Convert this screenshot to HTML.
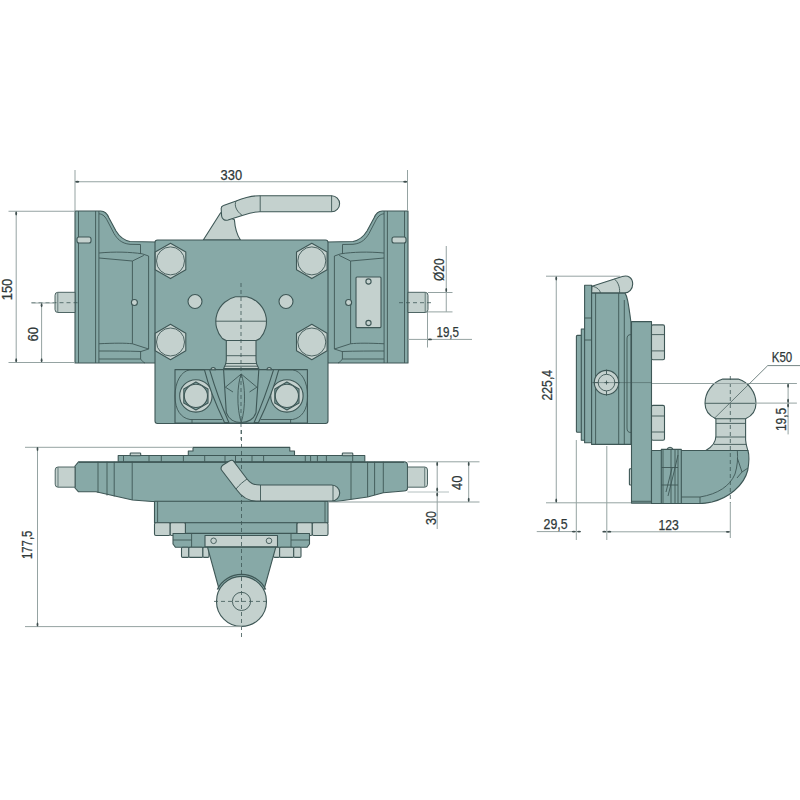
<!DOCTYPE html>
<html><head><meta charset="utf-8"><style>
html,body{margin:0;padding:0;background:#fff;width:800px;height:800px;overflow:hidden}
svg{display:block}
.t{fill:#87a9a7;stroke:#3e5756;stroke-width:1.1;stroke-linejoin:round}
.l{fill:#c4d1ce;stroke:#3e5756;stroke-width:1.1;stroke-linejoin:round}
.ln{fill:none;stroke:#3e5756;stroke-width:0.9}
.d{fill:none;stroke:#95a3a2;stroke-width:1}
.c{fill:none;stroke:#3e5756;stroke-width:0.8;stroke-dasharray:4 3}
text{font-family:"Liberation Sans",sans-serif;font-size:14px;fill:#2e3838;stroke:#2e3838;stroke-width:0.25}
</style></head><body>
<svg width="800" height="800" viewBox="0 0 800 800">


<!-- ===== TOP VIEW ===== -->
<!-- handle -->
<path class="l" d="M203.3,240 L220.6,212.7 L234.4,219.7 C235,228 237,235 240.5,240 Z"/>
<path class="l" d="M259.7,195.7 H331.6 A8,8 0 0 1 331.6,211.7 H259.7 C255,211.7 251,212.5 242.2,215.4 L228,220 C224.5,221 222,219 221.6,216 L221.2,209 C221,207.5 222,206 223.5,205.5 L236.1,200.9 C244,197.8 252,195.7 259.7,195.7 Z"/>
<path class="ln" d="M331.6,195.7 V211.7 M260.2,195.7 V211.7 M236.1,200.9 C234,205 236,211 242.2,215.4"/>

<g>
  <path class="t" d="M75,211 H100.7 C104,211 107,213 109,218 L116,231 C119,236 123,240 130,241.5 L156,242 V363 H75 Z"/>
  <path class="ln" d="M78.5,211 V363 M95.6,211 V363 M98.9,211 V363"/>
  <path class="ln" d="M99,213.8 C103,214 105.5,217 107.5,221 L114,233.5 C117,238.5 121,243.5 130,244.3 L140.5,244.5 V253.8"/>
  <rect class="l" x="77" y="237" width="14" height="6" rx="2"/>
  <path class="ln" d="M99,253 C115,251.5 130,252 142.2,253.8 L148.6,256 M99,258 L132.4,261 L143.8,255.4 M148.6,256 V349 M132.4,261 V343.75"/>
  <path class="ln" d="M99,343.75 C115,343 125,343 132.4,343.75 L148.6,349 L141,351.5 C127,351 112,351 99,351 M99,359 H140.6 V351.5 M140.6,359 C142,361 143,362 145,363"/>
  <circle class="l" cx="134.4" cy="302.5" r="3"/>
  <path class="l" d="M75,292.3 H57.8 Q55,292.3 55,295.3 V309.5 Q55,312.5 57.8,312.5 H75 Z" style="stroke-width:0.9"/>
  <path class="ln" d="M57.8,292.8 V312" style="stroke-width:0.7"/>
</g>
<g transform="translate(483,0) scale(-1,1)">
  <path class="t" d="M75,211 H100.7 C104,211 107,213 109,218 L116,231 C119,236 123,240 130,241.5 L156,242 V363 H75 Z"/>
  <path class="ln" d="M78.5,211 V363 M95.6,211 V363 M98.9,211 V363"/>
  <path class="ln" d="M99,213.8 C103,214 105.5,217 107.5,221 L114,233.5 C117,238.5 121,243.5 130,244.3 L140.5,244.5 V253.8"/>
  <rect class="l" x="77" y="237" width="14" height="6" rx="2"/>
  <path class="ln" d="M99,253 C115,251.5 130,252 142.2,253.8 L148.6,256 M99,258 L132.4,261 L143.8,255.4 M148.6,256 V349 M132.4,261 V343.75"/>
  <path class="ln" d="M99,343.75 C115,343 125,343 132.4,343.75 L148.6,349 L141,351.5 C127,351 112,351 99,351 M99,359 H140.6 V351.5 M140.6,359 C142,361 143,362 145,363"/>
  <circle class="l" cx="134.4" cy="302.5" r="3"/>
  <path class="l" d="M75,292.3 H57.8 Q55,292.3 55,295.3 V309.5 Q55,312.5 57.8,312.5 H75 Z" style="stroke-width:0.9"/>
  <path class="ln" d="M57.8,292.8 V312" style="stroke-width:0.7"/>
</g>
<!-- label plate on right -->
<rect class="l" x="356" y="277" width="25" height="50.6" rx="1"/>
<circle class="l" cx="368.5" cy="281.5" r="2.6"/>
<circle class="l" cx="368.5" cy="323" r="2.6"/>

<!-- centre plate -->
<rect class="t" x="155" y="240" width="173" height="183.5" rx="2.5"/>
<g transform="translate(170.5,260.9)">
  <polygon class="l" points="0,-17.7 15.3,-8.85 15.3,8.85 0,17.7 -15.3,8.85 -15.3,-8.85"/>
  <circle class="ln" r="14"/>
</g>
<g transform="translate(311.8,260.9)">
  <polygon class="l" points="0,-17.7 15.3,-8.85 15.3,8.85 0,17.7 -15.3,8.85 -15.3,-8.85"/>
  <circle class="ln" r="14"/>
</g>
<g transform="translate(170.5,342)">
  <polygon class="l" points="0,-17.7 15.3,-8.85 15.3,8.85 0,17.7 -15.3,8.85 -15.3,-8.85"/>
  <circle class="ln" r="14"/>
</g>
<g transform="translate(311.8,342)">
  <polygon class="l" points="0,-17.7 15.3,-8.85 15.3,8.85 0,17.7 -15.3,8.85 -15.3,-8.85"/>
  <circle class="ln" r="14"/>
</g>
<circle class="l" cx="195" cy="301.5" r="7"/>
<circle class="l" cx="286" cy="301.5" r="7"/>
<!-- lower bracket -->
<path class="t" d="M175,369.6 H307.4 V423 H175 Z"/>
<path class="ln" d="M204,369.85 H190 C181,371 175,382 175,396 C175,410 181,418 190,419.5 H222 M192,419.5 V423 M278.6,369.85 H292.6 C301.6,371 307.6,382 307.6,396 C307.6,410 301.6,418 292.6,419.5 H260.6 M290.6,419.5 V423"/>
<circle class="l" cx="195.9" cy="395.9" r="16.2"/>
<circle class="l" cx="286.9" cy="395.9" r="16.2"/>
<polygon class="t" points="195.9,381.9 208,388.9 208,402.9 195.9,409.9 183.8,402.9 183.8,388.9"/>
<circle class="l" cx="195.9" cy="395.9" r="11.6"/>
<polygon class="t" points="286.9,381.9 299,388.9 299,402.9 286.9,409.9 274.8,402.9 274.8,388.9"/>
<circle class="l" cx="286.9" cy="395.9" r="11.6"/>
<path class="t" d="M204.4,369.7 L209.6,369.7 C215,388 221,405 228.9,422.5 L224.5,422.5 C216,405 209,388 204.4,369.7 Z"/>
<path class="t" d="M278.8,369.7 L273.6,369.7 C268,388 262,405 254.1,422.5 L258.5,422.5 C267,405 274,388 278.8,369.7 Z"/>
<path class="t" d="M223.6,369.7 H258.8 L256,412.6 C254,419 248,422.5 241.2,422.5 C234.5,422.5 228.5,419 226.3,412.6 Z"/>
<path class="ln" d="M225.4,387.2 L241.2,374 L256.9,387.2 M225.4,387.2 L233,392 M256.9,387.2 L249.5,392 M241.2,374 C237,385 236.5,408 241.2,422.5 C245.9,408 245.4,385 241.2,374"/>
<path class="l" d="M211,369.7 A2.2,2.2 0 0 1 215.4,369.7 Z M267,369.7 A2.2,2.2 0 0 1 271.4,369.7 Z"/>
<!-- ball -->
<path class="l" d="M226.3,340 V360 C226.3,364 225,366 223.6,368.5 H258.8 C257.3,366 256,364 256,360 V340 Z"/>
<path class="l" d="M235.5,296.8 H246.8 A25.35,25.35 0 0 1 259.95,338.5 C258.5,339.5 257.5,340 256,340.5 H226.3 C224.8,340 223.8,339.5 222.35,338.5 A25.35,25.35 0 0 1 235.5,296.8 Z"/>
<path class="ln" d="M215.9,321.2 H266.4 M226.3,355.7 H256 M225.5,363.5 H257 M224.5,366.2 H258"/>
<path class="c" d="M241,283 V440 M31.5,302.7 H80 M399,302.7 H432"/>

<!-- ===== FRONT VIEW ===== -->
<path class="t" d="M193,447.4 H289.8 V451 H294.5 V455.5 H188.3 V451 H193 Z"/>
<rect class="t" x="118.2" y="455.5" width="246.6" height="6.5"/>
<path class="ln" d="M123.5,455.5 V462 M149,455.5 V462 M161.3,455.5 V462 M183.4,455.5 V462 M204.7,455.5 V462 M225,455.5 V462 M235.5,455.5 V462 M252,455.5 V462 M263.6,455.5 V462 M305.3,455.5 V462 M310.6,455.5 V462 M317.4,455.5 V462 M326.4,455.5 V462 M352.7,455.5 V462"/>
<rect class="l" x="130.2" y="453" width="10.5" height="2.7" rx="0.8"/>
<rect class="l" x="342.3" y="453" width="10.5" height="2.7" rx="0.8"/>
<path class="t" d="M78.5,461.8 H404 Q407.5,461.8 407.5,465.5 V488 Q407.5,491 404,491 L383.3,492.8 L367.6,497 L350,499.5 L336,501.5 H152 L132.5,500 L96,491.8 H78.5 L75,488 V466 Z"/>
<path class="ln" d="M98,461.8 V493 M107,461.8 V495.5 M114.2,461.8 V496.5 M132.2,461.8 V500 M383.3,461.8 V492.8 M374.6,461.8 V495 M367.6,461.8 V497 M351,461.8 V499.5 M79,462.5 H404"/>
<path class="l" d="M75,467 H58 Q55.2,467 55.2,470 V484.2 Q55.2,487.2 58,487.2 H75 Z" style="stroke-width:0.9"/><path class="ln" d="M58,467.5 V486.7" style="stroke-width:0.7"/>
<path class="l" d="M407.5,467 H424.7 Q427.5,467 427.5,470 V484.2 Q427.5,487.2 424.7,487.2 H407.5 Z" style="stroke-width:0.9"/><path class="ln" d="M424.7,467.5 V486.7" style="stroke-width:0.7"/>
<rect class="t" x="154.5" y="501.2" width="173.5" height="21.5"/>
<path class="ln" d="M157.6,501.2 V522.7 M325,501.2 V522.7"/>
<rect class="t" x="185.4" y="522.7" width="111.6" height="10.5"/>
<rect class="l" x="154.5" y="522.7" width="15.7" height="12.8" rx="1.5"/>
<rect class="l" x="170.2" y="522.7" width="15.2" height="12.8" rx="1.5"/>
<rect class="l" x="297" y="522.7" width="15.3" height="12.8" rx="1.5"/>
<rect class="l" x="312.3" y="522.7" width="15.7" height="12.8" rx="1.5"/>
<path class="t" d="M173,533.5 H309.5 V544 L307,547.3 H175.5 L173,544 Z"/>
<path class="ln" d="M191.6,533.5 V547.3 M291,533.5 V547.3 M173,540 H191.6 M291,540 H309.5"/>
<rect class="l" x="181.5" y="547.3" width="7.3" height="10.1" rx="1.2"/>
<rect class="l" x="188.8" y="547.3" width="14.1" height="10.1" rx="1.2"/>
<rect class="l" x="202.9" y="547.3" width="6.1" height="10.1" rx="1.2"/>
<rect class="l" x="273.5" y="547.3" width="6.1" height="10.1" rx="1.2"/>
<rect class="l" x="279.6" y="547.3" width="14.1" height="10.1" rx="1.2"/>
<rect class="l" x="293.7" y="547.3" width="7.3" height="10.1" rx="1.2"/>
<path class="t" d="M207.5,547.1 H275.8 L263.9,590 H219.3 Z"/>
<rect class="l" x="205" y="535.5" width="72.5" height="11.2"/>
<circle class="ln" cx="213.6" cy="540.8" r="2.8"/>
<circle class="ln" cx="269" cy="540.8" r="2.8"/>
<circle class="l" cx="241.5" cy="601.4" r="25"/>
<path class="ln" d="M217.3,589.5 A27,27 0 0 1 265.7,589.5" style="stroke-width:1.3"/>
<circle class="ln" cx="241.5" cy="601.4" r="9.1"/>
<path class="c" d="M241.5,430 V640 M214,601.4 H269.2"/>
<!-- front handle -->
<path class="l" d="M233,460.5 L247,479 C250,483 253,485 260.5,485 H331.7 A8,8 0 0 1 331.7,501 H256 C247,501 241,496 236,489 L221.5,470 C220.5,468 221,466.5 223,465 L229,461.2 C230.5,460.3 232,460 233,460.5 Z"/>
<path class="ln" d="M236,489 C240,484 243,482 247,479 M260.5,485 V501 M333,485 V501"/>

<!-- ===== SIDE VIEW ===== -->
<rect class="t" x="576.4" y="335.4" width="6" height="96.8" rx="1"/>
<rect class="t" x="581.3" y="329" width="5" height="111.3"/>
<rect class="t" x="584.6" y="285.3" width="7" height="157.5"/>
<path class="ln" d="M584.6,340 H591.6 M584.6,318 H591.6"/>
<path class="t" d="M591.6,292.9 H624.9 C627,296 628,300 631,322.5 V444.4 H591.6 Z"/>
<path class="ln" d="M595.6,292.9 V444.4 M618.7,292.9 V444.4 M624.3,300 V444.4"/>
<path class="ln" d="M631,334.6 C628,334.6 627,336 627,339 V428 C627,431 628,432.5 631,432.5"/>
<path class="l" d="M591.6,292.9 L592,286.2 L622.2,276.6 C628,274.5 632.7,278 632.7,284 C632.7,289 629,292.9 624.9,292.9 Z"/>
<path class="ln" d="M592,286.2 C597,287 600,290 600.4,292.9 M614.4,279 C618,282 620,287 619.6,292.9"/>
<rect class="t" x="631.5" y="321.6" width="20" height="181.5"/>
<path class="ln" d="M631.5,501.3 H651.5"/>
<rect class="l" x="629.4" y="468.7" width="2.1" height="16.3" rx="0.8"/>
<rect class="l" x="651.5" y="324.9" width="13" height="34.9" rx="1.5"/>
<rect class="l" x="651.5" y="405.4" width="13" height="34.9" rx="1.5"/>
<path class="ln" d="M651.5,334.6 H664.5 M651.5,350.9 H664.5 M651.5,416 H664.5 M651.5,432 H664.5"/>
<circle class="l" cx="606.5" cy="382.6" r="12.2"/>
<circle class="ln" cx="606.5" cy="382.6" r="8.3"/>
<path class="ln" d="M606.5,369.5 V374.3 M606.5,390.9 V395.7 M593.4,382.6 H598.2 M614.8,382.6 H619.6 M604.5,382.6 H608.5 M606.5,380.6 V384.6"/>
<path class="d" d="M591,382.6 H652" style="stroke:#3e5756;stroke-width:0.5"/>
<!-- ball + neck -->
<path class="l" d="M705.8,450.5 C712,447 715.9,443 715.9,436 V418 H745.6 V440 C746,445 747,447 747.8,450.5 Z"/>
<path class="l" d="M722.75,379.1 H738.25 A25.5,25.5 0 0 1 756,403.3 C756,410 753,415.5 745.6,418.8 H715.9 C708.5,415.5 705,410 705,403.3 A25.5,25.5 0 0 1 722.75,379.1 Z"/>
<path class="ln" d="M705,403.3 H756 M716,423.4 H745.6 M716,437 H745.6 M714,444.4 H746.5"/>
<!-- arm -->
<path class="t" d="M651.5,450.5 H748 C749.5,456 749,463 747.8,470 C744,486 728,498 712,502 C707,503 703,503.5 700,503.5 H651.5 Z"/>
<path class="ln" d="M737.3,450.5 C738,458 737.5,466 735,474 C730,486 718,494 700,497 H677.5 M700,497 V503.5 M737.3,458 L742,472 L748,468 M742,472 L737,478"/>
<rect class="t" x="661.3" y="449.4" width="20" height="54.1"/>
<path class="ln" d="M663,449.4 V503.5 M671,449.4 V503.5 M675,449.4 V503.5 M678,449.4 V503.5 M661.3,467.5 H678 M661.3,485 H678 M668,496 L674,472 L678,455 M666,492 L672,468"/>
<path class="l" d="M667,449.4 C668,446.5 672,446.5 673,449.4 Z"/>
<path class="c" d="M730.3,376 V503"/>

<!-- ===== DIMENSIONS ===== -->
<g class="d">
<path d="M75,170 V211 M407.5,170 V211 M75,181.75 H407.5"/>
<path d="M8.5,211.25 H75 M8.5,362.5 H75 M16.2,211.25 V362.5"/>
<path d="M31.5,303 H55 M41.6,303 V362.5"/>
<path d="M428,292.5 H452.5 M428,311.9 H452.5 M446.25,246 V311.9"/>
<path d="M427.5,312 V347.5 M408,339.4 H472"/>
<path d="M25,447.3 H193 M25,626.6 H241.6 M37.5,447.3 V626.6"/>
<path d="M407.5,461.8 H479.5 M328,502 H479.5 M468.7,461.8 V502 M437.2,461.8 V529"/>
<path d="M546,276.2 H620 M546,502.8 H631 M556.25,276.2 V502.8"/>
<path d="M576.3,440 V540 M606.8,446 V540 M730.3,503 V538 M536.75,531.6 H576.3 M606.8,531.8 H730.3"/>
<path d="M652,383.5 H796.9 M755,403.1 H796.9 M788.1,383.5 V434.4"/>
</g>
<path d="M407.5,492 H449" style="fill:none;stroke:#b4c0c0;stroke-width:1"/>
<path d="M714,418.7 L767.75,365.6 H800" style="fill:none;stroke:#4f6463;stroke-width:0.8"/>
<g style="fill:#3e4e4e"><ellipse cx="77.3" cy="181.75" rx="2" ry="0.9"/><ellipse cx="405.2" cy="181.75" rx="2" ry="0.9"/><ellipse cx="16.2" cy="213.5" rx="0.9" ry="2"/><ellipse cx="16.2" cy="360.3" rx="0.9" ry="2"/><ellipse cx="41.6" cy="305.3" rx="0.9" ry="2"/><ellipse cx="41.6" cy="360.3" rx="0.9" ry="2"/><ellipse cx="446.25" cy="290" rx="0.9" ry="2"/><ellipse cx="430" cy="339.4" rx="2" ry="0.9"/><ellipse cx="37.5" cy="449" rx="0.9" ry="2"/><ellipse cx="37.5" cy="624.4" rx="0.9" ry="2"/><ellipse cx="468.7" cy="464" rx="0.9" ry="2"/><ellipse cx="468.7" cy="499.8" rx="0.9" ry="2"/><ellipse cx="437.2" cy="464" rx="0.9" ry="2"/><ellipse cx="437.2" cy="489.5" rx="0.9" ry="2"/><ellipse cx="437.2" cy="494.5" rx="0.9" ry="2"/><ellipse cx="556.25" cy="278.5" rx="0.9" ry="2"/><ellipse cx="556.25" cy="500.5" rx="0.9" ry="2"/><ellipse cx="573.8" cy="531.6" rx="2" ry="0.9"/><ellipse cx="579" cy="531.6" rx="2" ry="0.9"/><ellipse cx="604.3" cy="531.7" rx="2" ry="0.9"/><ellipse cx="609.3" cy="531.7" rx="2" ry="0.9"/><ellipse cx="727.8" cy="531.8" rx="2" ry="0.9"/><ellipse cx="788.1" cy="385.8" rx="0.9" ry="2"/><ellipse cx="788.1" cy="400.8" rx="0.9" ry="2"/><ellipse cx="788.1" cy="405.5" rx="0.9" ry="2"/></g>
<g class="tx">
<text x="231.3" y="180" text-anchor="middle" textLength="21.5" lengthAdjust="spacingAndGlyphs">330</text>
<text transform="translate(11.5,289.5) rotate(-90)" text-anchor="middle" textLength="21.5" lengthAdjust="spacingAndGlyphs">150</text>
<text transform="translate(38.3,334.2) rotate(-90)" text-anchor="middle" textLength="14.5" lengthAdjust="spacingAndGlyphs">60</text>
<text transform="translate(443.8,269.7) rotate(-90)" text-anchor="middle" textLength="22.5" lengthAdjust="spacingAndGlyphs">Ø20</text>
<text x="447.75" y="337" text-anchor="middle" textLength="22.5" lengthAdjust="spacingAndGlyphs">19,5</text>
<text transform="translate(32.2,544.8) rotate(-90)" text-anchor="middle" textLength="28.5" lengthAdjust="spacingAndGlyphs">177,5</text>
<text transform="translate(462,482.75) rotate(-90)" text-anchor="middle" textLength="14.3" lengthAdjust="spacingAndGlyphs">40</text>
<text transform="translate(435.5,518) rotate(-90)" text-anchor="middle" textLength="14" lengthAdjust="spacingAndGlyphs">30</text>
<text transform="translate(552,385.2) rotate(-90)" text-anchor="middle" textLength="30.5" lengthAdjust="spacingAndGlyphs">225,4</text>
<text x="555.6" y="528.8" text-anchor="middle" textLength="24" lengthAdjust="spacingAndGlyphs">29,5</text>
<text x="668.65" y="529.8" text-anchor="middle" textLength="20.3" lengthAdjust="spacingAndGlyphs">123</text>
<text transform="translate(785.6,419.4) rotate(-90)" text-anchor="middle" textLength="23.3" lengthAdjust="spacingAndGlyphs">19,5</text>
<text x="782" y="361.5" text-anchor="middle" textLength="20.5" lengthAdjust="spacingAndGlyphs">K50</text>
</g>
</svg>
</body></html>
